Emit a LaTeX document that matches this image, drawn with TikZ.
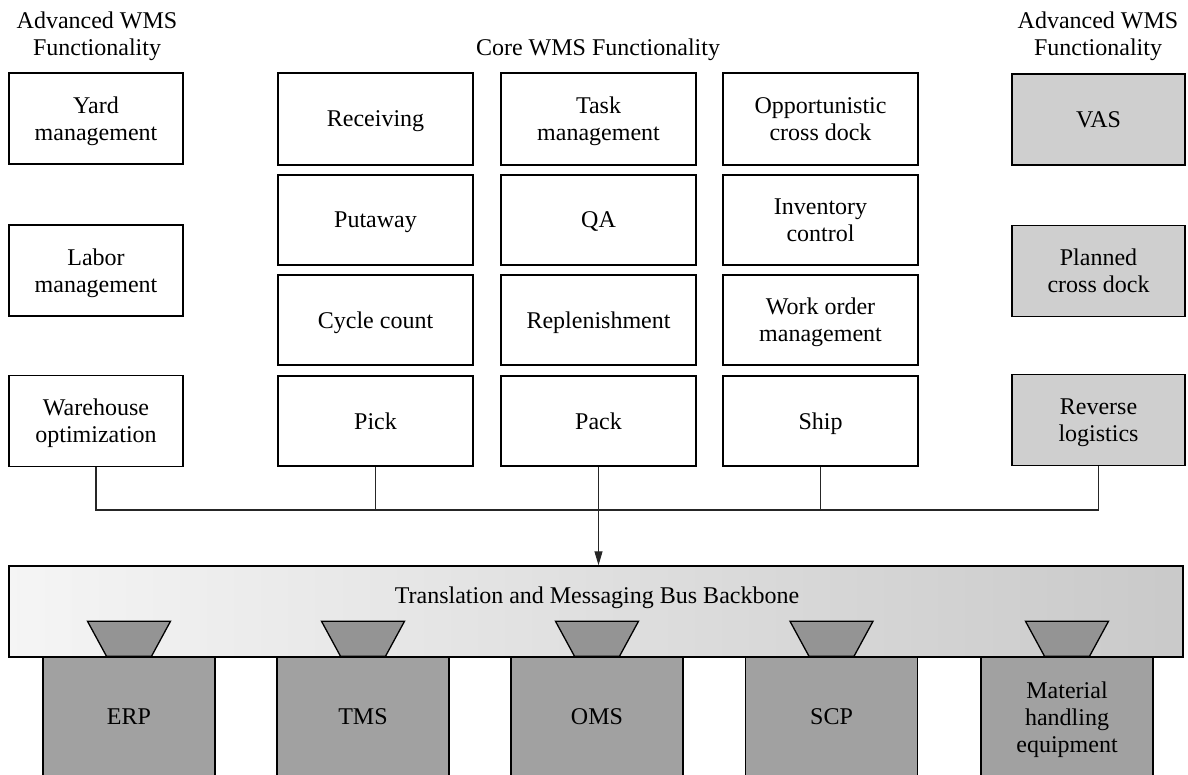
\documentclass[tikz,border=0pt]{standalone}
\usepackage{fontspec}
\setmainfont{Liberation Serif}
\usetikzlibrary{arrows.meta,calc}
\newcommand\dfont{\fontsize{24}{27}\selectfont}
\definecolor{advfill}{gray}{0.81}
\definecolor{sysfill}{gray}{0.63}
\definecolor{trapfill}{gray}{0.58}
\definecolor{busleft}{gray}{0.96}
\definecolor{busright}{gray}{0.79}
\begin{document}
\begin{tikzpicture}[x=1pt,y=-1pt,
  base/.style={draw=black, line width=1.5pt, align=center, inner sep=0pt, font=\dfont, minimum height=91pt, text depth=0pt},
  corebox/.style={base, minimum width=195pt, fill=white},
  leftbox/.style={base, minimum width=174pt, fill=white},
  rightbox/.style={base, minimum width=173pt, fill=advfill},
  sysbox/.style={base, minimum width=172pt, minimum height=120pt, fill=sysfill},
  title/.style={align=center, inner sep=0pt, font=\dfont},
  conn/.style={draw=black!85, line width=1.1pt},
  trap/.style={draw=black, line width=1.3pt, fill=trapfill}
]
\useasboundingbox (0,0) rectangle (1188,774);

% titles
\node[title] (tl) at (97,36.5) {Advanced WMS\\Functionality};
\node[title] (tc) at (598,50) {Core WMS Functionality};
\node[title] (tr) at (1098,36.5) {Advanced WMS\\Functionality};

% left advanced
\node[leftbox] (yard) at (96,118.5) {Yard\\management};
\node[leftbox] (labor) at (96,270.5) {Labor\\management};
\node[leftbox] (wo) at (96,421) {Warehouse\\optimization};

% core
\node[corebox, minimum height=92pt] (rec) at (375.5,119) {Receiving};
\node[corebox, minimum height=92pt] (task) at (598.5,119) {Task\\management};
\node[corebox, minimum height=92pt] (ocd) at (820.5,119) {Opportunistic\\cross dock};
\node[corebox, minimum height=90pt] (put) at (375.5,220) {Putaway};
\node[corebox, minimum height=90pt] (qa) at (598.5,220) {QA};
\node[corebox, minimum height=90pt] (inv) at (820.5,220) {Inventory\\control};
\node[corebox, minimum height=90pt] (cyc) at (375.5,320) {Cycle count};
\node[corebox, minimum height=90pt] (rep) at (598.5,320) {Replenishment};
\node[corebox, minimum height=90pt] (wom) at (820.5,320) {Work order\\management};
\node[corebox, minimum height=90pt] (pick) at (375.5,421) {Pick};
\node[corebox, minimum height=90pt] (pack) at (598.5,421) {Pack};
\node[corebox, minimum height=90pt] (ship) at (820.5,421) {Ship};

% right advanced
\node[rightbox] (vas) at (1098.5,119.5) {VAS};
\node[rightbox] (pcd) at (1098.5,271) {Planned\\cross dock};
\node[rightbox] (rl) at (1098.5,420) {Reverse\\logistics};

% bus
\node[draw=black, line width=1.5pt, left color=busleft, right color=busright,
      minimum width=1174pt, minimum height=91pt, inner sep=0pt] (bus) at (596,611.5) {};
\node[title] (bustext) at (597,598) {Translation and Messaging Bus Backbone};

% systems
\node[sysbox] (erp) at (129,717) {ERP};
\node[sysbox] (tms) at (363,717) {TMS};
\node[sysbox] (oms) at (597,717) {OMS};
\node[sysbox] (scp) at (831.5,717) {SCP};
\node[sysbox] (mhe) at (1067,717) {Material\\handling\\equipment};

% connectors (trapezoids)
\foreach \s in {erp,tms,oms,scp,mhe}{
  \draw[trap] ($(\s.north)+(-22.5,0)$) -- ($(\s.north)+(-41.5,-35)$) -- ($(\s.north)+(41.5,-35)$) -- ($(\s.north)+(22.5,0)$) -- cycle;
}

% lines
\coordinate (busline) at (0,510);
\draw[conn] (wo.south) -- (wo.south |- busline) -- (rl.south |- busline) -- (rl.south);
\draw[conn] (pick.south) -- (pick.south |- busline);
\draw[conn] (ship.south) -- (ship.south |- busline);
\draw[conn, -{Triangle[length=14pt,width=8pt]}] (pack.south) -- (bus.north -| pack.south);
\end{tikzpicture}
\end{document}
